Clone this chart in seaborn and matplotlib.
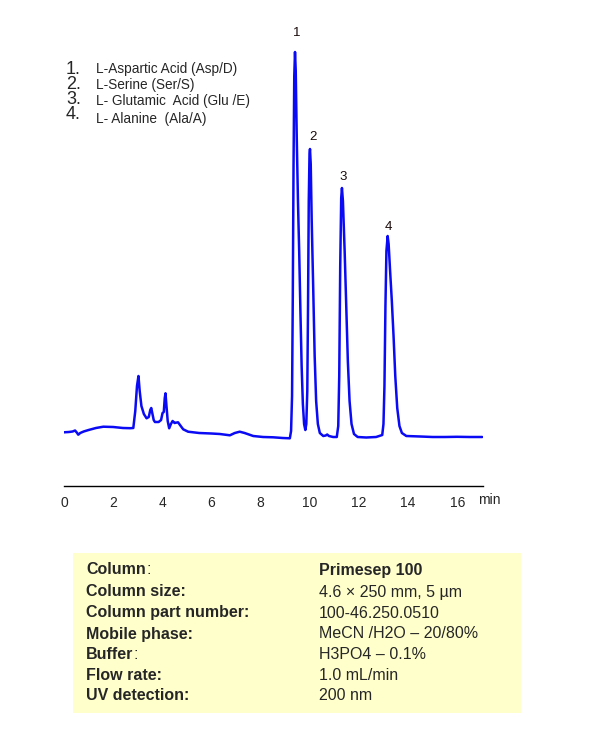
import numpy as np
import pandas as pd
import matplotlib
matplotlib.use("Agg")
import matplotlib.pyplot as plt
import seaborn as sns
from matplotlib.patches import Rectangle

# chromatogram trace (time in min, detector signal)
time = [0.00, 0.20, 0.35, 0.45, 0.52, 0.58, 0.66, 0.80, 1.00, 1.30, 1.60, 2.00, 2.40, 2.70,
        2.82, 2.90, 2.97, 3.03, 3.08, 3.15, 3.25, 3.36, 3.45, 3.51, 3.55, 3.60, 3.65, 3.70,
        3.85, 3.95, 4.01, 4.06, 4.10, 4.13, 4.17, 4.22, 4.28, 4.35, 4.42, 4.50, 4.55, 4.64,
        4.75, 4.85, 5.05, 5.50, 6.00, 6.34, 6.75, 6.95, 7.15, 7.35, 7.70, 8.10, 8.51, 8.90,
        9.19, 9.24, 9.28, 9.31, 9.34, 9.37, 9.40, 9.43, 9.47, 9.52, 9.57, 9.62, 9.67, 9.72,
        9.77, 9.82, 9.86, 9.90, 9.93, 9.96, 9.99, 10.01, 10.04, 10.08, 10.14, 10.20, 10.26,
        10.33, 10.41, 10.55, 10.65, 10.71, 10.78, 10.95, 11.10, 11.16, 11.20, 11.24, 11.28,
        11.31, 11.35, 11.42, 11.49, 11.55, 11.62, 11.70, 11.80, 11.95, 12.30, 12.70, 12.95,
        13.00, 13.04, 13.08, 13.12, 13.17, 13.21, 13.27, 13.34, 13.41, 13.48, 13.56, 13.65,
        13.75, 13.93, 14.50, 15.00, 15.50, 16.00, 16.50, 17.02]
signal = [3.7, 4.0, 4.5, 5.5, 3.5, 1.3, 3.0, 4.5, 6.0, 8.0, 9.3, 9.0, 8.0, 7.8,
          8.0, 25, 50, 60, 45, 30, 22, 17.7, 19, 26, 28, 22, 16, 14,
          14, 16, 23, 24, 38, 42.7, 30, 15, 7.7, 12, 15, 13, 13.3, 13.7,
          10, 6.7, 4.3, 3.0, 2.5, 2.0, 0.7, 3.0, 4.3, 3.0, 0.0, -1.0, -1.3, -2.0,
          -2.3, 5, 40, 140, 270, 360, 384, 365, 300, 235, 185, 125, 70, 32,
          12, 6, 12, 45, 130, 235, 282, 287, 272, 215, 149, 80, 35,
          12, 3, 0, 0.5, 1.5, 0, -1, -1, 10, 60, 170, 238,
          248, 235, 185, 126, 75, 35, 12, 2, -1, -1.5, -1, 1,
          12, 50, 130, 185, 200, 192, 165, 135, 100, 60, 28, 10,
          3, 0, -0.5, -1, -1, -0.8, -1, -1]

peak_ids = ["1", "2", "3", "4"]
peak_time = [9.40, 10.01, 11.31, 13.17]
peak_height = [384, 287, 248, 200]
compounds = ["L-Aspartic Acid (Asp/D)", "L-Serine (Ser/S)",
             "L- Glutamic  Acid (Glu /E)", "L- Alanine  (Ala/A)"]
xticks = [0, 2, 4, 6, 8, 10, 12, 14, 16]

cond_labels = ["Column", "Column size:", "Column part number:", "Mobile phase:",
               "Buffer", "Flow rate:", "UV detection:"]
cond_values = ["Primesep 100", "4.6 \u00d7 250 mm, 5 \u00b5m", "100-46.250.0510",
               "MeCN /H2O \u2013 20/80%", "H3PO4 \u2013 0.1%", "1.0 mL/min", "200 nm"]

sns.set_style("white")
plt.rcParams["font.family"] = ["Liberation Sans", "DejaVu Sans"]

W, H = 593, 743
fig = plt.figure(figsize=(W / 100, H / 100), dpi=100)


def fx(x):
    return x / W


def fy(y):
    return 1 - y / H


ax = fig.add_axes([fx(64), fy(486), fx(483) - fx(64), fy(20) - fy(486)])
df = pd.DataFrame({"time": time, "signal": signal})
sns.lineplot(data=df, x="time", y="signal", ax=ax, color="#0a0af5", lw=1.8,
             estimator=None, sort=False)
ax.set_xlim(0, 17.05)
ax.set_ylim(-50, 416)
for s in ["top", "right", "left"]:
    ax.spines[s].set_visible(False)
ax.spines["bottom"].set_color("black")
ax.spines["bottom"].set_linewidth(1.0)
ax.set_yticks([])
ax.set_xticks(xticks)
ax.set_xticklabels([str(t) for t in xticks], fontsize=10)
ax.tick_params(axis="x", direction="out", length=5, width=1, color="black", pad=2)
ax.set_xlabel("")
ax.set_ylabel("")
ax.patch.set_alpha(0)

# peak numbers
offsets = [(1.5, 9.5), (2, 4.5), (1.2, 3.5), (0.8, 2)]
for pid, t, h, off in zip(peak_ids, peak_time, peak_height, offsets):
    ax.annotate(pid, (t, h), xytext=off, textcoords="offset points",
                ha="center", va="bottom", fontsize=9.5, color="#1a0a0a")

fig.text(fx(478), fy(500), "min", fontsize=10, va="center", ha="left")

# compound list
fig.text(fx(66), fy(61), "\n".join(f"{i + 1}." for i in range(4)), fontsize=13,
         va="top", ha="left", linespacing=0.84)
name_y = [69.5, 85.5, 101.5, 118.5]
for i in range(4):
    fig.text(fx(96), fy(name_y[i]), compounds[i], fontsize=9.8, va="center", ha="left")

# conditions box
fig.patches.append(Rectangle((fx(73), fy(712.5)), fx(521) - fx(73), fy(552.5) - fy(712.5),
                             transform=fig.transFigure, facecolor="#ffffcc",
                             edgecolor="none", zorder=0))
row_y = [570, 592, 613, 634, 654.5, 675, 696]
fig.canvas.draw()
for lab, val, y in zip(cond_labels, cond_values, row_y):
    t = fig.text(fx(86), fy(y), lab, fontsize=11.5, fontweight="bold", va="center", ha="left")
    if lab in ("Column", "Buffer"):
        bb = t.get_window_extent(renderer=fig.canvas.get_renderer())
        fig.text((bb.x1 + 0.5) / W, fy(y), ":", fontsize=11.5, va="center", ha="left")
    fig.text(fx(319), fy(y), val, fontsize=11.5, va="center", ha="left",
             fontweight="bold" if val == "Primesep 100" else "normal")

fig.savefig("out.png", dpi=100)
